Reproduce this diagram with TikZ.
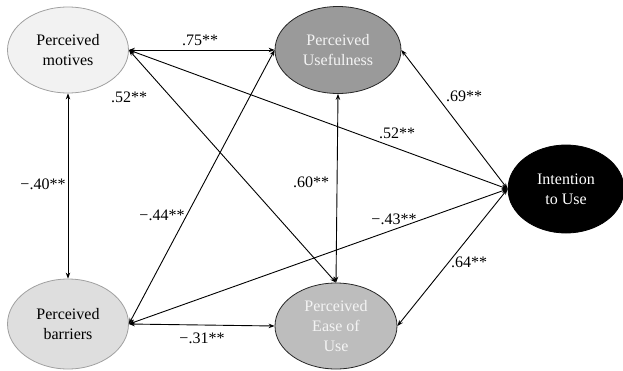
\documentclass[tikz,border=0pt]{standalone}
\usepackage{fontspec}
\setmainfont{Liberation Serif}
\usetikzlibrary{shapes.geometric,arrows.meta}
\definecolor{motfill}{HTML}{F2F2F2}
\definecolor{barfill}{HTML}{DEDEDE}
\definecolor{usefill}{HTML}{9A9A9A}
\definecolor{easefill}{HTML}{BDBDBD}
\definecolor{lightborder}{HTML}{A0A0A0}
\definecolor{lighttext}{HTML}{F4F4F4}
\begin{document}
\begin{tikzpicture}[x=1pt,y=-1pt,
  every node/.style={font=\fontsize{16}{20}\selectfont},
  latent/.style={ellipse,inner sep=0pt,align=center,line width=0.8pt},
  corr/.style={{Stealth[length=6pt,width=4.5pt]}-{Stealth[length=6pt,width=4.5pt]},line width=0.9pt},
  coef/.style={inner sep=1pt}
]
\useasboundingbox (0,0) rectangle (623,370);
\node[latent,draw=lightborder,fill=motfill,minimum width=121pt,minimum height=86pt] (mot) at (68,50) {Perceived\\motives};
\node[latent,draw=lightborder,fill=barfill,minimum width=121pt,minimum height=90pt] (bar) at (68,324) {Perceived\\barriers};
\node[latent,draw=black!85,fill=usefill,text=lighttext,minimum width=126pt,minimum height=87pt] (use) at (338,50) {Perceived\\Usefulness};
\node[latent,draw=black!85,fill=easefill,text=lighttext,minimum width=122pt,minimum height=86pt] (ease) at (336,326) {Perceived\\Ease of\\Use};
\node[latent,draw=black,fill=black,text=white,minimum width=116pt,minimum height=88pt] (int) at (566,189) {Intention\\to Use};

\draw[corr] (mot.east) -- (use.west);
\draw[corr] (mot.south) -- (bar.north);
\draw[corr] (mot.east) -- (int.west);
\draw[corr] (mot.east) -- (ease.north);
\draw[corr] (use.west) -- (bar.east);
\draw[corr] (use.south) -- (ease.north);
\draw[corr] (use.east) -- (int.west);
\draw[corr] (int.west) -- (bar.east);
\draw[corr] (int.west) -- (ease.east);
\draw[corr] (bar.east) -- (ease.west);

\node[coef] (l75) at (200,40) {.75**};
\node[coef] (l52a) at (129,97) {.52**};
\node[coef] (l52b) at (397,133) {.52**};
\node[coef] (l40) at (43,184) {−.40**};
\node[coef] (l44) at (162,215) {−.44**};
\node[coef] (l60) at (311,182) {.60**};
\node[coef] (l69) at (464,96) {.69**};
\node[coef] (l43) at (394,219) {−.43**};
\node[coef] (l64) at (469,262) {.64**};
\node[coef] (l31) at (202,338) {−.31**};
\end{tikzpicture}
\end{document}
